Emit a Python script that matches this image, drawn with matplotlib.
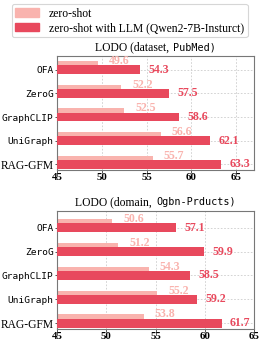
import numpy as np
import matplotlib.pyplot as plt
from matplotlib.patches import Patch
from matplotlib.offsetbox import TextArea, HPacker, AnchoredOffsetbox

models = ["OFA", "ZeroG", "GraphCLIP", "UniGraph", "RAG-GFM"]
mono_models = ["OFA", "ZeroG", "GraphCLIP", "UniGraph"]

pubmed_zero = [49.6, 52.2, 52.5, 56.6, 55.7]
pubmed_llm = [54.3, 57.5, 58.6, 62.1, 63.3]
products_zero = [50.6, 51.2, 54.3, 55.2, 53.8]
products_llm = [57.1, 59.9, 58.5, 59.2, 61.7]

legend_labels = ["zero-shot", "zero-shot with LLM (Qwen2-7B-Insturct)"]

light = "#F9B3AE"
dark = "#E8495D"
serif = "Liberation Serif"
mono = "DejaVu Sans Mono"


def draw_panel(ax, zero, llm, title_a, title_b, xlim, ylim):
    y = np.arange(len(models))
    h = 0.36
    ax.barh(y - 0.19, zero, height=h, color=light, zorder=2)
    ax.barh(y, llm, height=h, color=dark, zorder=3)
    for i in range(len(models)):
        ax.annotate(f"{zero[i]:.1f}", (zero[i], y[i] - 0.19 - h / 2),
                    xytext=(8, 0), textcoords="offset points",
                    ha="left", va="center", color=light, fontsize=8.6,
                    fontweight="bold", family=serif, zorder=4)
        ax.annotate(f"{llm[i]:.1f}", (llm[i], y[i]),
                    xytext=(6, 0), textcoords="offset points",
                    ha="left", va="center", color=dark, fontsize=8.6,
                    fontweight="bold", family=serif, zorder=4)
    ax.set_xlim(*xlim)
    ax.set_ylim(*ylim)
    ax.set_xticks([45, 50, 55, 60, 65])
    ax.set_yticks(y)
    ax.set_yticklabels(models)
    for lab in ax.get_yticklabels():
        if lab.get_text() in mono_models:
            lab.set_fontfamily(mono)
            lab.set_fontsize(6.8)
        else:
            lab.set_fontfamily(serif)
            lab.set_fontsize(8.3)
    for lab in ax.get_xticklabels():
        lab.set_fontfamily(serif)
        lab.set_fontweight("bold")
        lab.set_fontsize(7.8)
    ax.tick_params(length=1.8, width=0.7, color="#555555", pad=0.6)
    ax.grid(True, linestyle=(0, (2, 2)), color="#cccccc", linewidth=0.6, zorder=0)
    ax.set_axisbelow(True)
    for s in ax.spines.values():
        s.set_color("#777777")
        s.set_linewidth(0.8)

    # title mixes serif and monospace parts
    box = HPacker(children=[
        TextArea(title_a, textprops=dict(family=serif, size=8.4)),
        TextArea(title_b, textprops=dict(family=mono, size=7.3)),
    ], align="baseline", pad=0, sep=3)
    anc = AnchoredOffsetbox(loc="lower center", child=box, pad=0, borderpad=0.2,
                            frameon=False, bbox_to_anchor=(0.5, 1.0),
                            bbox_transform=ax.transAxes)
    ax.add_artist(anc)


fig = plt.figure(figsize=(2.62, 3.49), dpi=100)
ax1 = fig.add_axes([0.2176, 0.5129, 0.7519, 0.3266])
ax2 = fig.add_axes([0.2176, 0.0573, 0.7519, 0.339])

draw_panel(ax1, pubmed_zero, pubmed_llm, "LODO (dataset,", "PubMed)", (45, 67), (4.24, -0.58))
draw_panel(ax2, products_zero, products_llm, "LODO (domain,", "Ogbn-Prducts)", (45, 65), (4.24, -0.71))

handles = [Patch(color=light), Patch(color=dark)]
leg = fig.legend(handles, legend_labels, loc="upper center", bbox_to_anchor=(0.495, 0.995),
                 prop=dict(family=serif, size=8.4), frameon=True, fancybox=True,
                 handlelength=2.0, handleheight=0.7, labelspacing=0.2,
                 borderpad=0.3, handletextpad=0.9, borderaxespad=0.2)
leg.get_frame().set_edgecolor("#cccccc")
leg.get_frame().set_linewidth(0.8)

fig.savefig("out.png", dpi=100)
